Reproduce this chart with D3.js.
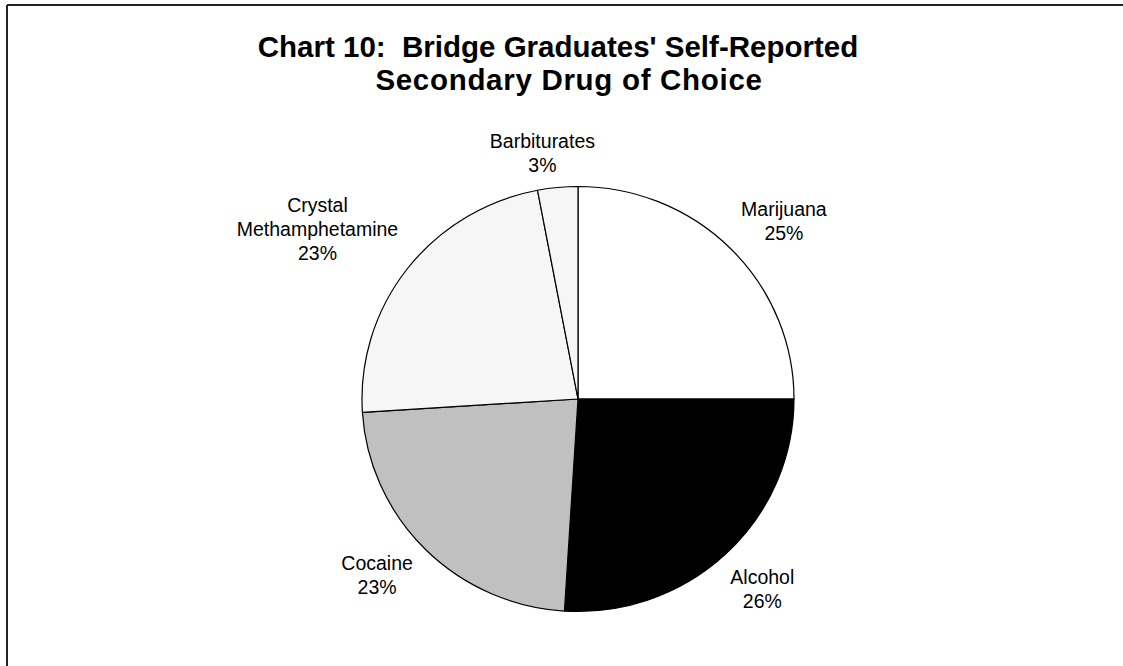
<!DOCTYPE html>
<html>
<head>
<meta charset="utf-8">
<script src="https://cdn.jsdelivr.net/npm/d3@7"></script>
<style>
  html, body { margin: 0; padding: 0; background: #fff; }
  svg { display: block; }
  text { font-family: "Liberation Sans", Arial, sans-serif; fill: #000; white-space: pre; }
</style>
</head>
<body>
<svg id="chart" width="1123" height="666"></svg>
<script>
// Secondary drug of choice, share of Bridge graduates (percent)
const categories = ["Marijuana", "Alcohol", "Cocaine", "Crystal Methamphetamine", "Barbiturates"];
const labelLines = [["Marijuana"], ["Alcohol"], ["Cocaine"], ["Crystal", "Methamphetamine"], ["Barbiturates"]];
const shares = [25, 26, 23, 23, 3];
const titleLines = ["Chart 10:  Bridge Graduates' Self-Reported", "Secondary Drug of Choice"];

// slice fills, in category order
const fills = ["#ffffff", "#000000", "#c0c0c0", "#f6f6f6", "#f6f6f6"];
// small per-label nudges (px) applied after the automatic outside placement
const labelNudge = [[13, -1], [5, 8], [-13, -1], [-15, -9], [-9, 3]];

const W = 1123, H = 666;
const svg = d3.select("#chart");

// frame: top and left rules only
svg.append("line").attr("x1", 7).attr("y1", 5).attr("x2", W).attr("y2", 5)
  .attr("stroke", "#222").attr("stroke-width", 2);
svg.append("line").attr("x1", 7).attr("y1", 5).attr("x2", 7).attr("y2", H)
  .attr("stroke", "#222").attr("stroke-width", 2);

// title
const title = svg.append("g");
title.append("text").attr("x", 558).attr("y", 57).attr("text-anchor", "middle")
  .attr("xml:space", "preserve")
  .style("font-size", "29.5px").style("font-weight", "bold").text(titleLines[0]);
title.append("text").attr("x", 569).attr("y", 90).attr("text-anchor", "middle")
  .style("font-size", "29.5px").style("font-weight", "bold")
  .style("letter-spacing", "0.7px").text(titleLines[1]);

// pie (drawn slightly flattened vertically)
const cx = 578, cy = 399, R = 216, yScale = 212.5 / 216;
const pie = d3.pie().sort(null).value(d => d.v).startAngle(0).endAngle(2 * Math.PI);
const data = categories.map((c, i) => ({ c, v: shares[i], fill: fills[i], lines: labelLines[i], i }));
const arcs = pie(data);
const arc = d3.arc().innerRadius(0).outerRadius(R);

const g = svg.append("g").attr("transform", `translate(${cx},${cy})`);
g.append("g").attr("transform", `scale(1,${yScale})`)
  .selectAll("path.slice").data(arcs).join("path")
  .attr("class", "slice")
  .attr("d", arc)
  .attr("fill", d => d.data.fill)
  .attr("stroke", "#000")
  .attr("stroke-width", 1.2)
  .attr("stroke-linejoin", "round");

// labels placed just outside the rim, box pushed outward along the slice bisector
const fs = 19.5, lh = 24, gap = 14;
const labels = g.selectAll("g.lab").data(arcs).join("g").attr("class", "lab");
labels.each(function (d) {
  const sel = d3.select(this);
  const lines = d.data.lines.concat([d.data.v + "%"]);
  const a = (d.startAngle + d.endAngle) / 2;
  const sx = Math.sin(a), sy = -Math.cos(a) * yScale;
  const px = (R + gap) * sx, py = (R + gap) * sy;
  const tmp = sel.append("text").style("font-size", fs + "px");
  let w = 0;
  lines.forEach(t => { tmp.text(t); w = Math.max(w, tmp.node().getComputedTextLength()); });
  tmp.remove();
  const h = lines.length * lh;
  const [nx, ny] = labelNudge[d.data.i];
  const bx = px + sx * w / 2 + nx, by = py + Math.sign(sy) * Math.abs(Math.cos(a)) * h / 2 + ny;
  lines.forEach((t, k) => {
    sel.append("text")
      .attr("x", bx)
      .attr("y", by - h / 2 + (k + 1) * lh - 5)
      .attr("text-anchor", "middle")
      .style("font-size", fs + "px")
      .text(t);
  });
});
</script>
</body>
</html>
